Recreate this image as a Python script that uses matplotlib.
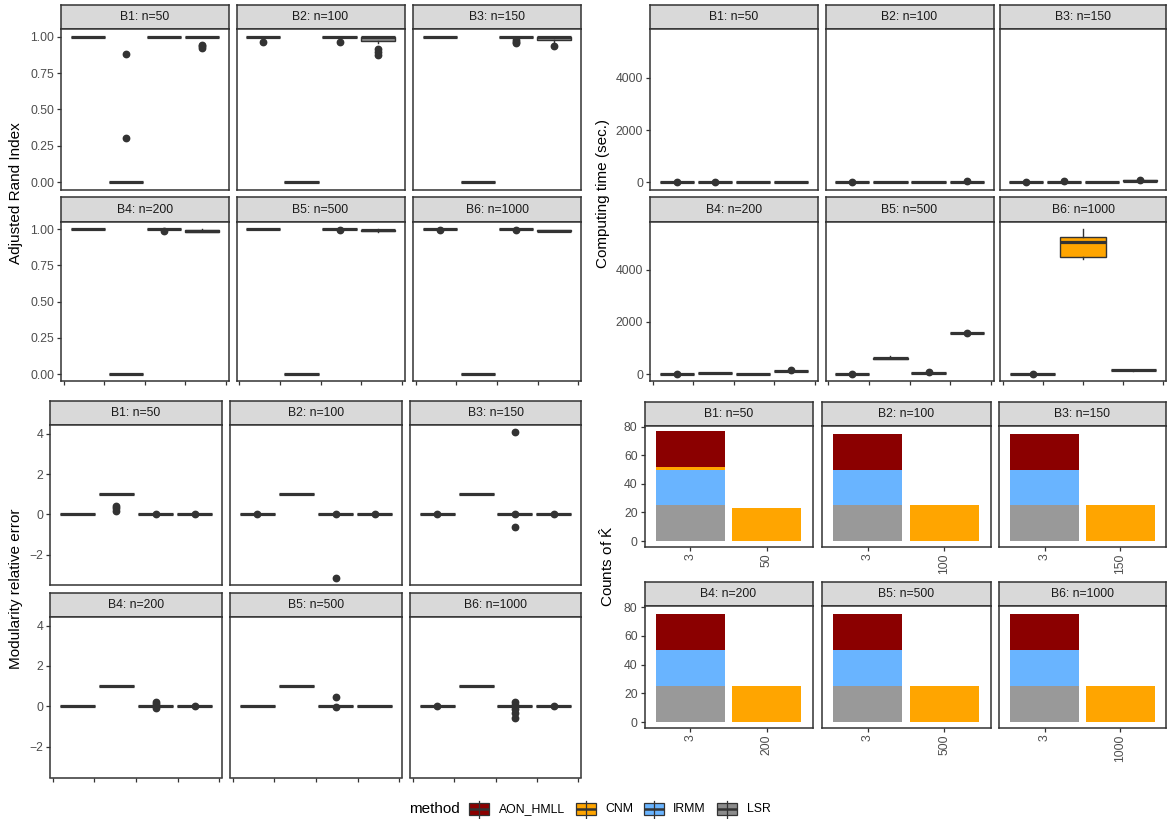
import matplotlib
matplotlib.use("Agg")
import matplotlib.pyplot as plt
from matplotlib.patches import Rectangle
from matplotlib.lines import Line2D

plt.rcParams['font.family'] = ['Liberation Sans', 'DejaVu Sans']
plt.rcParams['mathtext.fontset'] = 'custom'
plt.rcParams['mathtext.rm'] = 'Liberation Sans'
plt.rcParams['mathtext.it'] = 'Liberation Sans:italic'

# ---------------- data ----------------
methods = ["AON_HMLL", "CNM", "IRMM", "LSR"]
facet_labels = ["B1: n=50", "B2: n=100", "B3: n=150",
                "B4: n=200", "B5: n=500", "B6: n=1000"]
n_values = [50, 100, 150, 200, 500, 1000]

# box stats per facet: (whisker_low, q1, median, q3, whisker_high, outliers)
ari_stats = {
    "AON_HMLL": [(1, 1, 1, 1, 1, []), (1, 1, 1, 1, 1, [0.966]), (1, 1, 1, 1, 1, []),
                 (1, 1, 1, 1, 1, []), (1, 1, 1, 1, 1, []), (1, 1, 1, 1, 1, [0.996])],
    "CNM": [(0, 0, 0, 0, 0, [0.882, 0.305]), (0, 0, 0, 0, 0, []), (0, 0, 0, 0, 0, []),
            (0, 0, 0, 0, 0, []), (0, 0, 0, 0, 0, []), (0, 0, 0, 0, 0, [])],
    "IRMM": [(1, 1, 1, 1, 1, []), (1, 1, 1, 1, 1, [0.966]), (1, 1, 1, 1, 1, [0.975, 0.966, 0.958]),
             (1, 1, 1, 1, 1, [0.986]), (1, 1, 1, 1, 1, [0.996]), (1, 1, 1, 1, 1, [0.996])],
    "LSR": [(1, 1, 1, 1, 1, [0.945, 0.935, 0.925]),
            (0.955, 0.97, 0.995, 1.0, 1.0, [0.912, 0.893, 0.875]),
            (0.96, 0.977, 0.995, 1.0, 1.0, [0.936]),
            (0.978, 0.982, 0.99, 0.996, 1.0, []),
            (0.98, 0.986, 0.992, 0.996, 0.999, []),
            (0.986, 0.988, 0.99, 0.992, 0.994, [])],
}

time_stats = {
    "AON_HMLL": [(0, 0, 1, 2, 3, [8]), (0, 1, 1, 2, 3, [10]), (0, 1, 2, 3, 4, [12]),
                 (0, 1, 2, 3, 4, [15]), (0, 2, 3, 4, 5, [20]), (0, 2, 3, 4, 5, [20])],
    "CNM": [(0, 1, 2, 3, 4, [10]), (3, 4, 5, 6, 7, []), (15, 18, 20, 22, 25, [45]),
            (35, 38, 40, 42, 45, []), (580, 595, 605, 615, 700, []),
            (4430, 4500, 5080, 5270, 5560, [])],
    "IRMM": [(2, 3, 4, 5, 6, []), (3, 4, 5, 6, 7, []), (8, 10, 12, 14, 16, []),
             (8, 10, 12, 14, 16, []), (40, 45, 50, 55, 60, [75]), None],
    "LSR": [(5, 8, 10, 12, 15, []), (15, 20, 25, 30, 35, [50]), (50, 60, 65, 70, 80, [100]),
            (110, 120, 125, 130, 140, [150]), (1570, 1580, 1590, 1595, 1605, [1560]),
            (130, 140, 150, 160, 170, [])],
}

mod_stats = {
    "AON_HMLL": [(0, 0, 0, 0, 0, []), (0, 0, 0, 0, 0, [0.01]), (0, 0, 0, 0, 0, [0.01]),
                 (0, 0, 0, 0, 0, []), (0, 0, 0, 0, 0, []), (0, 0, 0, 0, 0, [0.01])],
    "CNM": [(1, 1, 1, 1, 1, [0.42, 0.3, 0.15]), (1, 1, 1, 1, 1, []), (1, 1, 1, 1, 1, []),
            (1, 1, 1, 1, 1, []), (1, 1, 1, 1, 1, []), (1, 1, 1, 1, 1, [])],
    "IRMM": [(0, 0, 0, 0, 0, [0.01]), (0, 0, 0, 0, 0, [0.01, -3.17]),
             (0, 0, 0, 0, 0, [4.08, 0.01, -0.65]),
             (0, 0, 0, 0, 0, [0.23, 0.12, 0.02, -0.08]),
             (0, 0, 0, 0, 0, [0.45, -0.03]),
             (0, 0, 0, 0, 0, [0.23, 0.07, -0.15, -0.35, -0.56])],
    "LSR": [(0, 0, 0, 0, 0, [0.01]), (0, 0, 0, 0, 0, [0.01]), (0, 0, 0, 0, 0, [0.01]),
            (0, 0, 0, 0, 0, [0.01]), (0, 0, 0, 0, 0, []), (0, 0, 0, 0, 0, [0.01])],
}

# counts of estimated K: at K=3 per method, and CNM at K=n
count_k3 = {
    "AON_HMLL": [25, 25, 25, 25, 25, 25],
    "CNM": [2, 0, 0, 0, 0, 0],
    "IRMM": [25, 25, 25, 25, 25, 25],
    "LSR": [25, 25, 25, 25, 25, 25],
}
count_kn_cnm = [23, 25, 25, 25, 25, 25]

box_colors = {"AON_HMLL": "#8B0000", "CNM": "#FFA500", "IRMM": "#69B4FF", "LSR": "#8C8C8C"}
bar_colors = {"AON_HMLL": "#8B0000", "CNM": "#FFA500", "IRMM": "#69B4FF", "LSR": "#999999"}

# ---------------- figure ----------------
W, H = 1167, 819
fig = plt.figure(figsize=(W / 100, H / 100), dpi=100)
fig.patch.set_facecolor("white")

DARK = "#333333"
TICKC = "#4D4D4D"
LW_BORDER = 1.1


def px_axes(x0, x1, y0, y1):
    return fig.add_axes([x0 / W, 1 - y1 / H, (x1 - x0) / W, (y1 - y0) / H])


def style_panel(ax):
    for s in ax.spines.values():
        s.set_color(DARK)
        s.set_linewidth(LW_BORDER)
    ax.tick_params(direction="out", length=2.75, width=0.9, color=DARK,
                   labelsize=8.8, labelcolor=TICKC, pad=2.2)
    ax.set_facecolor("white")


def add_strip(x0, x1, y0, y1, text):
    s = px_axes(x0, x1, y0, y1)
    s.set_facecolor("#D9D9D9")
    s.set_xticks([])
    s.set_yticks([])
    for sp in s.spines.values():
        sp.set_color(DARK)
        sp.set_linewidth(LW_BORDER)
    s.text(0.5, 0.5, text, ha="center", va="center", fontsize=8.8,
           color="#1A1A1A", transform=s.transAxes)


def box_block(stats, cols, rows, ylim, yticks, yticklabels):
    for k in range(6):
        r, c = divmod(k, 3)
        x0, x1 = cols[c]
        st, pt, pb = rows[r]
        add_strip(x0, x1, st, pt, facet_labels[k])
        ax = px_axes(x0, x1, pt, pb)
        style_panel(ax)
        present = [m for m in methods if stats[m][k] is not None]
        n = len(present)
        slot = 0.75 / n
        for i, m in enumerate(present):
            lo, q1, med, q3, hi, fl = stats[m][k]
            pos = -0.375 + slot * (i + 0.5)
            ax.bxp([dict(med=med, q1=q1, q3=q3, whislo=lo, whishi=hi, fliers=fl)],
                   positions=[pos], widths=[slot * 0.9], patch_artist=True,
                   showcaps=False, manage_ticks=False,
                   boxprops=dict(facecolor=box_colors[m], edgecolor=DARK, linewidth=1.0),
                   medianprops=dict(color=DARK, linewidth=2.3, solid_capstyle="butt"),
                   whiskerprops=dict(color=DARK, linewidth=1.0),
                   flierprops=dict(marker="o", markerfacecolor=DARK, markeredgecolor=DARK,
                                   markersize=4.6, linestyle="none"))
        ax.set_xlim(-0.4125, 0.4125)
        ax.set_ylim(*ylim)
        ax.set_xticks([-0.4, -0.2, 0.0, 0.2, 0.4])
        ax.set_xticklabels([])
        ax.set_yticks(yticks)
        ax.set_yticklabels(yticklabels)
        if c != 0:
            ax.tick_params(left=False, labelleft=False)
        if r == 0:
            ax.tick_params(bottom=False)


# ---- top-left: ARI ----
rows_top = [(5, 29.4, 189.6), (197.3, 221.8, 381.3)]
box_block(ari_stats, [(61, 228.5), (236.5, 404.5), (413, 581)], rows_top,
          (-0.05, 1.05), [0, 0.25, 0.5, 0.75, 1.0],
          ["0.00", "0.25", "0.50", "0.75", "1.00"])
fig.text(16 / W, 1 - 193 / H, "Adjusted Rand Index", rotation=90, ha="center",
         va="center", fontsize=11)

# ---- top-right: computing time ----
box_block(time_stats, [(650, 817.5), (825.5, 993.5), (1000, 1166)], rows_top,
          (-278, 5848), [0, 2000, 4000], ["0", "2000", "4000"])
fig.text(603 / W, 1 - 193 / H, "Computing time (sec.)", rotation=90, ha="center",
         va="center", fontsize=11)

# ---- bottom-left: modularity ----
rows_bl = [(400.7, 425, 585.3), (593.3, 616.7, 777.5)]
box_block(mod_stats, [(50, 222), (230, 402), (410, 581)], rows_bl,
          (-3.53, 4.44), [-2, 0, 2, 4], ["\u22122", "0", "2", "4"])
fig.text(16 / W, 1 - 589 / H, "Modularity relative error", rotation=90,
         ha="center", va="center", fontsize=11)

# ---- bottom-right: counts of K-hat ----
rows_br = [(402, 425.5, 546.5), (582, 606, 727.7)]
cols_br = [(644.5, 812.5), (821.5, 990.5), (999, 1166)]
stack_order = ["LSR", "IRMM", "CNM", "AON_HMLL"]
for k in range(6):
    r, c = divmod(k, 3)
    x0, x1 = cols_br[c]
    st, pt, pb = rows_br[r]
    add_strip(x0, x1, st, pt, facet_labels[k])
    ax = px_axes(x0, x1, pt, pb)
    style_panel(ax)
    cats = ["3", str(n_values[k])]
    bottom = 0
    for m in stack_order:
        v = count_k3[m][k]
        if v > 0:
            ax.bar([0], [v], bottom=[bottom], width=0.9, color=bar_colors[m], linewidth=0)
        bottom += v
    ax.bar([1], [count_kn_cnm[k]], width=0.9, color=bar_colors["CNM"], linewidth=0)
    ax.set_xlim(-0.6, 1.6)
    ax.set_ylim(-3.85, 80.85)
    ax.set_xticks([0, 1])
    ax.set_xticklabels(cats, rotation=90)
    ax.set_yticks([0, 20, 40, 60, 80])
    if c != 0:
        ax.tick_params(left=False, labelleft=False)
fig.text(607 / W, 1 - 566 / H, r"Counts of $\hat{\mathrm{K}}$", rotation=90,
         ha="center", va="center", fontsize=11)

# ---- legend ----
lg = fig.add_axes([0, 0, 1, 1], zorder=10)
lg.set_xlim(0, W)
lg.set_ylim(H, 0)
lg.axis("off")
lg.patch.set_alpha(0)
lg.text(409, 809, "method", ha="left", va="center", fontsize=11)
key_x = [469, 576, 644, 717]
lab_x = [499, 605, 673, 747]
for m, kx, lx in zip(methods, key_x, lab_x):
    cx = kx + 10
    lg.add_line(Line2D([cx, cx], [800.5, 817.5], color=DARK, lw=0.9))
    lg.add_patch(Rectangle((kx, 802.5), 20, 12.5, facecolor=box_colors[m],
                           edgecolor=DARK, lw=0.9))
    lg.add_line(Line2D([kx, kx + 20], [808.75, 808.75], color=DARK, lw=1.8,
                       solid_capstyle="butt"))
    lg.text(lx, 809, m, ha="left", va="center", fontsize=8.8, color="black")

fig.savefig("out.png", dpi=100, facecolor="white")
